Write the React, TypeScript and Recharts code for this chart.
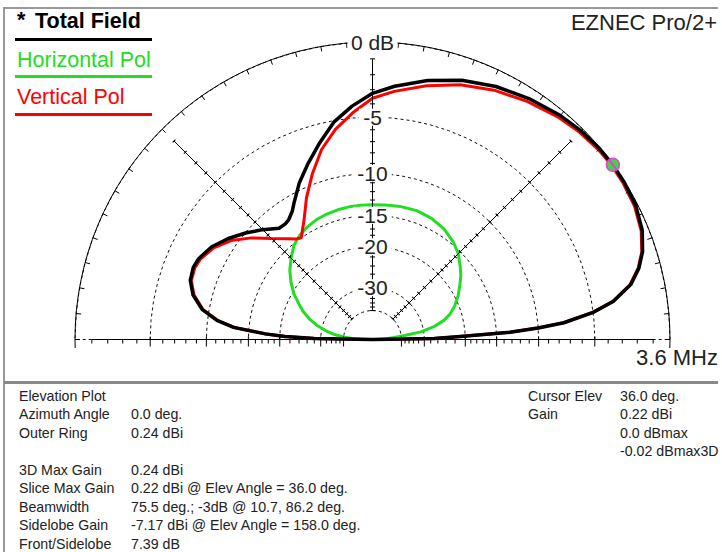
import React from 'react';
import { RadarChart, Radar, PolarGrid, PolarAngleAxis, PolarRadiusAxis } from 'recharts';

// elevation angles (deg) and gains relative to the outer ring (dB)
const elevDeg = [0, 1, 2, 3, 4, 5, 7, 9, 12, 15, 18, 22, 27, 32, 36, 40, 45, 50, 57, 64, 71, 78, 85, 90, 95, 100, 105, 110, 115, 120, 122, 125, 127, 130, 135, 140, 145, 150, 155, 158, 162, 166, 170, 173, 175, 177, 178, 179, 180];
const totalFieldDb = [-99, -27, -20.9, -13.2, -10.0, -7.5, -5.0, -3.4, -2.05, -1.3, -0.8, -0.38, -0.12, -0.04, -0.02, -0.05, -0.15, -0.3, -0.6, -0.95, -1.4, -2.0, -2.7, -3.25, -4.1, -5.1, -6.5, -7.9, -9.3, -10.95, -11.6, -12.2, -12.35, -12.3, -11.15, -10.05, -9.0, -8.1, -7.55, -7.41, -7.55, -8.15, -9.3, -11.0, -13.0, -17.5, -21, -28, -99];
const horizPolDb = [-99, -62, -57, -52, -49, -46, -38, -31, -26.5, -23.9, -22.3, -20.8, -19.4, -18.2, -17.2, -16.4, -15.4, -14.7, -14.0, -13.6, -13.4, -13.45, -13.55, -13.6, -13.6, -13.6, -13.65, -13.75, -13.9, -14.2, -14.35, -14.6, -14.85, -15.25, -16.3, -17.4, -18.8, -20.4, -22.5, -23.7, -25.8, -28.5, -32, -36, -40, -46, -50, -57, -99];
const vertPolDb = [-99, -27, -21, -13.3, -10.1, -7.6, -5.05, -3.45, -2.1, -1.35, -0.85, -0.45, -0.2, -0.12, -0.1, -0.14, -0.26, -0.45, -0.8, -1.2, -1.7, -2.35, -3.05, -3.6, -4.6, -5.7, -7.1, -9.0, -11.05, -13.3, -14.0, -15.0, -14.75, -14.0, -12.6, -10.85, -9.35, -8.3, -7.7, -7.55, -7.65, -8.25, -9.4, -11.1, -13.1, -17.6, -21.1, -28.1, -99];

const ringDb = [0, -5, -10, -15, -20, -30, -40];
const ringLabels = ['0 dB', '-5', '-10', '-15', '-20', '-30', ''];
const minorTickDb = [-1, -2, -3, -4, -5, -6, -7, -8, -9, -10, -11, -12, -13, -14, -15, -16, -17, -18, -19, -20, -22, -24, -26, -28, -30, -32, -34, -36, -38, -40];
const arcTickDeg = [0, 5, 10, 15, 20, 25, 30, 35, 40, 45, 50, 55, 60, 65, 70, 75, 80, 85, 90, 95, 100, 105, 110, 115, 120, 125, 130, 135, 140, 145, 150, 155, 160, 165, 170, 175, 180];
const cursorElev = 36;

const leftRows = [
  ['Elevation Plot', ''],
  ['Azimuth Angle', '0.0 deg.'],
  ['Outer Ring', '0.24 dBi'],
  ['', ''],
  ['3D Max Gain', '0.24 dBi'],
  ['Slice Max Gain', '0.22 dBi @ Elev Angle = 36.0 deg.'],
  ['Beamwidth', '75.5 deg.; -3dB @ 10.7, 86.2 deg.'],
  ['Sidelobe Gain', '-7.17 dBi @ Elev Angle = 158.0 deg.'],
  ['Front/Sidelobe', '7.39 dB'],
];
const rightRows = [
  ['Cursor Elev', '36.0 deg.'],
  ['Gain', '0.22 dBi'],
  ['', '0.0 dBmax'],
  ['', '-0.02 dBmax3D'],
];

// ARRL log scale: radius shrinks by 0.89 for every 2 dB
const arrl = (db: number) => Math.pow(0.89, -db / 2);

const chartData = elevDeg.map((angle, i) => ({
  angle,
  total: arrl(totalFieldDb[i]),
  horiz: arrl(horizPolDb[i]),
  vert: arrl(vertPolDb[i]),
}));

const ringR = ringDb.map(arrl);
const minorR = minorTickDb.map(arrl);

const FONT = '"Liberation Sans", Arial, sans-serif';
const GREEN = '#22dd22';

const isRing = (v: number) => ringR.some((r) => Math.abs(r - v) < 1e-6);

// tick marks drawn in the axis' rotated frame (horizontal = across the spoke)
const spokeTick = (mode: 'cross' | 'pos' | 'neg', half: number) => (props: any) => {
  const { x, y, transform, payload } = props;
  let x1 = x - half;
  let x2 = x + half;
  if (mode !== 'cross') {
    const major = isRing(payload.value);
    const len = major ? 7 : 4;
    x1 = mode === 'pos' ? x - (major ? 3 : 0) : x - len;
    x2 = mode === 'pos' ? x + len : x + (major ? 3 : 0);
  }
  return (
    <g transform={transform}>
      <line x1={x1} y1={y} x2={x2} y2={y} stroke="#000" strokeWidth={1} />
    </g>
  );
};

const RingLabel = (props: any) => {
  const { x, y, index } = props;
  const label = ringLabels[index];
  if (!label) return <g />;
  const w = label.length * 11.5 + 4;
  return (
    <g>
      <rect x={x - w / 2} y={y - 8.5} width={w} height={17} fill="#fff" />
      <text x={x} y={y + 7.5} textAnchor="middle" fontFamily={FONT} fontSize={21} fill="#222">
        {label}
      </text>
    </g>
  );
};

const CursorDot = (props: any) => {
  const { cx, cy, payload } = props;
  const ang = payload?.payload?.angle ?? payload?.angle ?? payload?.name;
  if (ang !== cursorElev) return <g />;
  return (
    <g>
      <circle cx={cx} cy={cy} r={6.5} fill="#3ed83e" stroke="#e040e0" strokeWidth={1.5} />
      <line x1={cx - 3.5} y1={cy - 5} x2={cx + 3.5} y2={cy + 5} stroke="#e040e0" strokeWidth={2} />
    </g>
  );
};

const spokes = [
  { id: 'b0', angle: 0, mode: 'pos' as const, half: 0 },
  { id: 'b180', angle: 180, mode: 'neg' as const, half: 0 },
  { id: 'd45', angle: 45, mode: 'cross' as const, half: 2 },
  { id: 'd135', angle: 135, mode: 'cross' as const, half: 2 },
  { id: 'v90', angle: 90, mode: 'cross' as const, half: 2.5 },
];

const text = (s: React.CSSProperties): React.CSSProperties => ({
  position: 'absolute',
  whiteSpace: 'nowrap',
  fontFamily: FONT,
  lineHeight: '21px',
  ...s,
});

const infoText = (left: number, i: number) =>
  text({ left, top: 387.5 + i * 18.5, fontSize: 14.2, lineHeight: '16px', color: '#222' });

export default function App() {
  return (
    <div style={{ position: 'absolute', left: 0, top: 0, width: 722, height: 552, background: '#fff', overflow: 'hidden', fontFamily: FONT }}>
      <div style={{ position: 'absolute', left: 0, top: 0 }}>
        <RadarChart
          width={722}
          height={348}
          data={chartData}
          cx={372.5}
          cy={339.5}
          outerRadius={297.5}
          innerRadius={0}
          startAngle={0}
          endAngle={180}
          margin={{ top: 0, right: 0, bottom: 0, left: 0 }}
        >
          <PolarGrid gridType="polygon" radialLines={false} polarAngles={arcTickDeg} stroke="#111" strokeDasharray="3 3" />
          <PolarAngleAxis
            dataKey="angle"
            type="number"
            domain={[0, 180]}
            ticks={arcTickDeg as any}
            tickCount={37}
            tick={false}
            tickLine={{ stroke: '#000' }}
            tickSize={5}
            orientation="inner"
            axisLine={{ stroke: '#000' }}
            axisLineType="circle"
          />
          {spokes.map((s) => (
            <PolarRadiusAxis
              key={s.id}
              radiusAxisId={s.id}
              angle={s.angle}
              type="number"
              domain={[0, 1]}
              allowDataOverflow
              ticks={minorR as any}
              tick={spokeTick(s.mode, s.half)}
              axisLine={{ stroke: '#000' }}
            />
          ))}
          <PolarRadiusAxis
            radiusAxisId={0}
            angle={90}
            type="number"
            domain={[0, 1]}
            allowDataOverflow
            ticks={ringR as any}
            tick={RingLabel}
            axisLine={false}
          />
          <Radar dataKey="horiz" stroke={GREEN} strokeWidth={3} fill="none" fillOpacity={0} strokeLinejoin="round" dot={false} isAnimationActive={false} />
          <Radar dataKey="vert" stroke="#ff0000" strokeWidth={3} fill="none" fillOpacity={0} strokeLinejoin="round" dot={false} isAnimationActive={false} />
          <Radar dataKey="total" stroke="#000" strokeWidth={3.5} fill="none" fillOpacity={0} strokeLinejoin="round" dot={CursorDot} isAnimationActive={false} />
        </RadarChart>
      </div>

      {/* frame */}
      <div style={{ position: 'absolute', left: 4, top: 7, width: 714, height: 2, background: '#999' }} />
      <div style={{ position: 'absolute', left: 3, top: 7, width: 2, height: 545, background: '#999' }} />
      <div style={{ position: 'absolute', left: 4, top: 381, width: 714, height: 3, background: '#888' }} />

      {/* legend */}
      <div style={text({ left: 17, top: 10, fontSize: 21.5, fontWeight: 'bold', color: '#000' })}>*</div>
      <div style={text({ left: 35, top: 11, fontSize: 21.5, fontWeight: 'bold', color: '#000' })}>Total Field</div>
      <div style={{ position: 'absolute', left: 15, top: 37.5, width: 137, height: 3, background: '#000' }} />
      <div style={text({ left: 17, top: 50, fontSize: 21.5, color: GREEN })}>Horizontal Pol</div>
      <div style={{ position: 'absolute', left: 15, top: 74.5, width: 137, height: 3, background: GREEN }} />
      <div style={text({ left: 17, top: 87, fontSize: 21.5, color: '#ff0000' })}>Vertical Pol</div>
      <div style={{ position: 'absolute', left: 15, top: 112.5, width: 137, height: 3, background: '#ff0000' }} />

      <div style={text({ right: 5, top: 11.5, fontSize: 22, color: '#222' })}>EZNEC Pro/2+</div>
      <div style={text({ right: 4, top: 346.5, fontSize: 22, color: '#222' })}>3.6 MHz</div>

      {/* info panel */}
      {leftRows.map((r, i) => (
        <React.Fragment key={'l' + i}>
          <div style={infoText(19, i)}>{r[0]}</div>
          <div style={infoText(131, i)}>{r[1]}</div>
        </React.Fragment>
      ))}
      {rightRows.map((r, i) => (
        <React.Fragment key={'r' + i}>
          <div style={infoText(528, i)}>{r[0]}</div>
          <div style={infoText(620, i)}>{r[1]}</div>
        </React.Fragment>
      ))}
    </div>
  );
}
